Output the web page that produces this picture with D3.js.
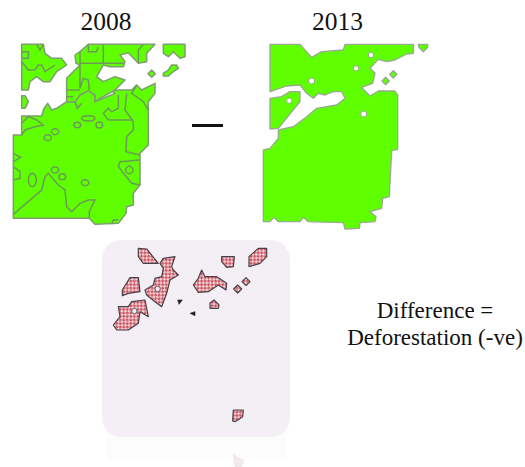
<!DOCTYPE html>
<html>
<head>
<meta charset="utf-8">
<style>
  html, body { margin: 0; padding: 0; background: #fff; }
  text { font-family: "Liberation Serif", serif; fill: #111; }
</style>
</head>
<body>
<div id="container"></div>
<script src="https://cdn.jsdelivr.net/npm/d3@7/dist/d3.min.js"></script>
<script>
// titles and labels
const titles = ["2008", "2013"];
const noteLines = ["Difference =", "Deforestation (-ve)"];

// all shapes are traced in map units, 3 units to a screen pixel
// 2008 forest patches
const forest2008 = [
  [[65,43],[130,43],[135,70],[155,85],[185,85],[200,105],[170,125],[150,155],[130,155],[110,140],[90,155],[85,180],[65,180]],
  [[65,197],[75,197],[85,215],[75,235],[65,235]],
  [[490,43],[555,43],[555,80],[540,85],[520,65],[505,80],[490,70]],
  [[455,120],[466,131],[455,142],[444,131]],
  [[490,130],[505,120],[515,105],[530,105],[535,115],[520,125],[505,138],[490,138]],
  [[40,315],[65,315],[65,258],[125,258],[132,235],[143,220],[155,240],[170,235],[200,215],[225,215],[240,195],[265,182],[285,195],[285,215],[345,190],[335,182],[355,180],[395,180],[410,165],[425,180],[465,160],[465,190],[445,215],[445,345],[420,370],[420,465],[400,490],[400,525],[380,530],[378,550],[355,580],[285,583],[268,565],[40,565]],
  [[200,215],[200,145],[240,105],[228,100],[225,75],[240,65],[265,43],[465,43],[440,70],[440,95],[415,100],[385,68],[360,75],[375,95],[370,110],[330,110],[310,105],[290,140],[310,155],[345,140],[375,150],[345,180],[300,205],[285,215],[285,195],[265,182],[240,195],[225,215]]
];
// field boundaries inside the 2008 patches
const lines2008 = [
  [[65,65],[85,65],[85,85],[65,85]],
  [[110,43],[120,60],[130,43]],
  [[65,95],[85,120],[105,120],[115,105],[125,105],[135,125],[165,105]],
  [[240,65],[240,100],[370,100]],
  [[310,43],[310,100]],
  [[265,43],[265,65],[290,65],[295,50]],
  [[415,100],[415,60],[430,43]],
  [[240,105],[240,175],[250,145],[265,150],[268,180]],
  [[200,180],[240,180]],
  [[200,200],[220,200]],
  [[355,195],[355,235],[335,245],[325,235],[310,250],[325,270],[400,270]],
  [[380,190],[375,240],[400,275],[400,300],[380,320],[378,365],[420,375]],
  [[410,165],[395,190],[430,215],[445,240]],
  [[360,395],[420,390]],
  [[360,395],[355,410],[395,460],[420,465]],
  [[40,553],[125,480],[135,440],[145,430],[175,465],[195,480],[200,530],[215,545],[240,520],[265,510],[285,510],[268,545],[268,565]],
  [[40,370],[62,382],[40,395]],
  [[40,410],[60,425],[60,445],[40,450]],
  [[65,280],[85,260],[110,270],[130,285],[105,290],[75,300],[65,315]],
  [[225,215],[232,235],[245,220]],
  [[335,583],[340,570],[355,570]]
];
// small closed rings inside the 2008 patches: x, y, rx, ry
const rings2008 = [
  [265,265,20,8],[232,285,10,8],[298,285,10,9],[165,305,11,9],[143,323,11,9],
  [165,420,11,9],[187,440,10,9],[255,458,11,9],[97,450,12,20],[388,420,11,11]
];

// 2013 forest patches
const forest2013 = [
  [[60,43],[150,43],[185,82],[215,65],[280,60],[285,43],[490,43],[490,70],[470,72],[435,90],[410,95],[385,88],[360,115],[375,130],[368,160],[335,172],[360,198],[385,183],[435,183],[443,195],[443,358],[425,362],[418,500],[398,505],[395,535],[360,545],[378,560],[375,575],[330,578],[328,595],[285,597],[280,578],[175,575],[160,562],[150,575],[85,575],[72,562],[60,575],[40,575],[40,360],[60,355],[85,325],[85,300],[130,290],[170,260],[200,235],[260,225],[285,205],[275,185],[250,185],[225,195],[205,190],[190,205],[170,190],[150,165],[110,168],[60,185]],
  [[60,205],[95,200],[120,185],[150,185],[150,215],[85,295],[60,297]],
  [[505,43],[533,43],[533,52],[520,65],[507,52]],
  [[430,122],[441,133],[430,144],[419,133]],
  [[407,142],[418,153],[407,164],[396,153]]
];
const holes2013 = [[363,75,8],[318,115,8],[185,153,9],[118,212,8],[341,252,9]];

// deforested patches, 2008 minus 2013
const loss = [
  [[130,40],[155,42],[190,85],[145,85],[130,65]],
  [[205,70],[240,65],[230,95],[235,105],[250,120],[225,135],[215,175],[200,215],[180,200],[155,180],[150,165],[175,150],[180,130],[200,125],[205,100],[195,85]],
  [[105,128],[130,128],[135,170],[100,175],[82,182],[82,165]],
  [[70,215],[100,215],[110,200],[150,195],[160,245],[135,230],[130,265],[100,285],[65,285],[55,270],[75,245]],
  [[320,105],[330,125],[365,125],[395,145],[393,165],[370,150],[340,170],[310,172],[295,150],[310,130]],
  [[380,65],[418,65],[415,95],[395,97],[380,80]],
  [[490,40],[515,40],[515,65],[495,85],[462,95],[462,65]],
  [[453,128],[465,140],[453,152],[441,140]],
  [[428,150],[440,162],[428,174],[416,162]],
  [[345,205],[357,195],[372,210],[370,220],[345,220]],
  [[415,525],[445,525],[443,545],[420,560],[413,558]]
];
const lossSpecks = [
  [[248,195],[262,195],[252,208]],
  [[285,235],[300,230],[300,242]]
];
const lossHoles = [[188,162,8],[118,228,8]];
const lossGhost = [[415,657],[430,670],[445,675],[440,695],[420,695]];

const width = 525, height = 467;

const svg = d3.select("#container").append("svg")
  .attr("width", width)
  .attr("height", height)
  .style("display", "block");

const defs = svg.append("defs");
defs.append("filter").attr("id", "soft")
  .attr("filterUnits", "userSpaceOnUse")
  .attr("x", 0).attr("y", 0).attr("width", width).attr("height", height)
  .append("feGaussianBlur").attr("stdDeviation", 0.6);

const check = defs.append("pattern").attr("id", "check")
  .attr("width", 5).attr("height", 5)
  .attr("patternUnits", "userSpaceOnUse")
  .attr("patternTransform", "rotate(45)");
check.append("rect").attr("width", 5).attr("height", 5).attr("fill", "#f4d5d8");
check.append("rect").attr("width", 2.5).attr("height", 2.5).attr("fill", "#c9525f");
check.append("rect").attr("x", 2.5).attr("y", 2.5).attr("width", 2.5).attr("height", 2.5).attr("fill", "#c9525f");

// one panel = one pair of scales from map units to the page
function panel(x0, y0) {
  const x = d3.scaleLinear().domain([0, 600]).range([x0, x0 + 200]);
  const y = d3.scaleLinear().domain([0, 600]).range([y0, y0 + 200]);
  const path = d3.line().x(d => x(d[0])).y(d => y(d[1]));
  const ring = d3.line().x(d => x(d[0])).y(d => y(d[1])).curve(d3.curveLinearClosed);
  return { x, y, path, ring, g: svg.append("g").attr("filter", "url(#soft)") };
}

// 2008
const p08 = panel(0, 30);
p08.g.selectAll("path.patch").data(forest2008).enter().append("path")
  .attr("class", "patch")
  .attr("d", p08.ring)
  .attr("fill", "#5eff00")
  .attr("stroke", "#7f9c72")
  .attr("stroke-width", 1.5)
  .attr("stroke-linejoin", "round");
p08.g.append("g").selectAll("path").data(lines2008).enter().append("path")
  .attr("d", p08.path)
  .attr("fill", "none")
  .attr("stroke", "#6c9a58")
  .attr("stroke-width", 1.5);
p08.g.append("g").selectAll("ellipse").data(rings2008).enter().append("ellipse")
  .attr("cx", d => p08.x(d[0]))
  .attr("cy", d => p08.y(d[1]))
  .attr("rx", d => d[2] / 3)
  .attr("ry", d => d[3] / 3)
  .attr("fill", "none")
  .attr("stroke", "#6c9a58")
  .attr("stroke-width", 1.5);

// 2013
const p13 = panel(250, 30);
p13.g.selectAll("path.patch").data(forest2013).enter().append("path")
  .attr("class", "patch")
  .attr("d", p13.ring)
  .attr("fill", "#5eff00")
  .attr("stroke", "#9aa893")
  .attr("stroke-width", 1.3)
  .attr("stroke-linejoin", "round");
p13.g.append("g").selectAll("circle").data(holes2013).enter().append("circle")
  .attr("cx", d => p13.x(d[0]))
  .attr("cy", d => p13.y(d[1]))
  .attr("r", d => d[2] / 3)
  .attr("fill", "#fff")
  .attr("stroke", "#9aa893")
  .attr("stroke-width", 1);

// minus sign
svg.append("rect").attr("x", 192).attr("y", 124).attr("width", 31).attr("height", 3).attr("fill", "#111");

// difference card with its faint reflection
svg.append("rect").attr("x", 107).attr("y", 425).attr("width", 180).attr("height", 35).attr("fill", "#fdfcfd");
svg.append("rect")
  .attr("x", 102).attr("y", 240).attr("width", 188).attr("height", 197).attr("rx", 19)
  .attr("fill", "#f3eff5");

const pLoss = panel(95, 235);
pLoss.g.selectAll("path.patch").data(loss).enter().append("path")
  .attr("class", "patch")
  .attr("d", pLoss.ring)
  .attr("fill", "url(#check)")
  .attr("stroke", "#4a4048")
  .attr("stroke-width", 1.2)
  .attr("stroke-linejoin", "round");
pLoss.g.append("g").selectAll("path").data(lossSpecks).enter().append("path")
  .attr("d", pLoss.ring)
  .attr("fill", "#222")
  .attr("stroke", "#222")
  .attr("stroke-width", 0.6);
pLoss.g.append("g").selectAll("circle").data(lossHoles).enter().append("circle")
  .attr("cx", d => pLoss.x(d[0]))
  .attr("cy", d => pLoss.y(d[1]))
  .attr("r", d => d[2] / 3)
  .attr("fill", "#f3eff5")
  .attr("stroke", "#4a4048")
  .attr("stroke-width", 0.8);
pLoss.g.append("path").datum(lossGhost)
  .attr("d", pLoss.ring)
  .attr("fill", "#f5e9ec")
  .attr("stroke", "#eee4e8")
  .attr("stroke-width", 1);

// text
svg.selectAll("text.title").data(titles).enter().append("text")
  .attr("class", "title")
  .attr("x", (d, i) => [106, 337.5][i])
  .attr("y", 30)
  .attr("text-anchor", "middle")
  .style("font-size", "25.5px")
  .text(d => d);
svg.selectAll("text.note").data(noteLines).enter().append("text")
  .attr("class", "note")
  .attr("x", 435)
  .attr("y", (d, i) => 317.5 + i * 27.5)
  .attr("text-anchor", "middle")
  .style("font-size", "23px")
  .text(d => d);
</script>
</body>
</html>
